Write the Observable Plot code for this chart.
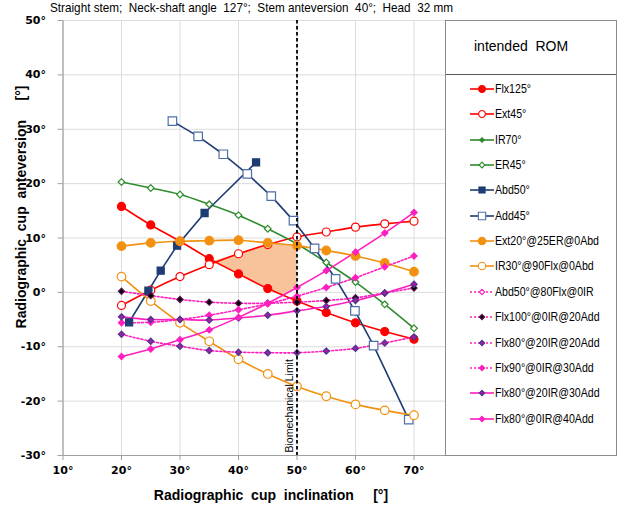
<!DOCTYPE html>
<html><head><meta charset="utf-8">
<script src="https://cdn.jsdelivr.net/npm/d3@7"></script>
<script src="https://cdn.jsdelivr.net/npm/@observablehq/plot@0.6"></script>
<style>
body{margin:0;background:#fff;}
#wrap{position:relative;width:618px;height:507px;overflow:hidden;font-family:"Liberation Sans",Arial,sans-serif;color:#000;}
#wrap > svg{position:absolute;left:0;top:0;}
.title{position:absolute;left:50px;top:0px;font-size:13.5px;white-space:pre;font-family:"Liberation Sans Narrow","Liberation Sans",Arial,sans-serif;line-height:16px;transform-origin:0 50%;}
.xlab{position:absolute;left:0;width:542px;top:486px;text-align:center;font-weight:bold;font-size:14px;white-space:pre;line-height:18px;}
.ylab{position:absolute;left:21px;top:207px;transform:translate(-50%,-50%) rotate(-90deg);font-weight:bold;font-size:14px;white-space:pre;line-height:18px;}
.legend{position:absolute;left:445px;top:20px;width:170px;height:434px;border:1px solid #8c8c8c;background:#fff;}
.lhead{position:absolute;left:0;top:0;width:170px;height:53px;border-bottom:1px solid #555;font-size:14px;white-space:pre;}
.lhead span{position:absolute;left:28px;top:17px;}
.litem{position:absolute;left:24px;height:14px;font-size:13px;white-space:nowrap;font-family:"Liberation Sans Narrow","Liberation Sans",Arial,sans-serif;line-height:14px;display:flex;align-items:center;}
.litem svg{display:block;margin-right:1px;flex:none;}
.litem span{display:inline-block;transform-origin:0 50%;}
</style></head><body><div id="wrap"></div>
<script>
// ---- data ----
const titleText = "Straight stem;  Neck-shaft angle  127°;  Stem anteversion  40°;  Head  32 mm";
const xTicks = [10, 20, 30, 40, 50, 60, 70];
const yTicks = [-30, -20, -10, 0, 10, 20, 30, 40, 50];
const incl = [20, 25, 30, 35, 40, 45, 50, 55, 60, 65, 70];
const flx125 = [15.8, 12.4, 9.4, 6.2, 3.4, 0.7, -1.6, -3.7, -5.6, -7.2, -8.6];
const ext45 = [-2.4, 0.4, 2.9, 5.1, 7.1, 8.8, 10.2, 11.1, 12.0, 12.6, 13.1];
const ir70 = [];
const er45 = [20.3, 19.2, 18.0, 16.2, 14.2, 11.7, 8.9, 5.5, 1.9, -2.2, -6.6];
const abd50Incl = [21.3, 24.6, 26.7, 29.5, 34.2, 43.0];
const abd50 = [-5.5, 0.3, 4.0, 8.6, 14.6, 23.9];
const add45Incl = [28.7, 33.1, 37.4, 41.5, 45.6, 49.4, 53.0, 56.6, 59.9, 63.1, 69.1];
const add45 = [31.5, 28.7, 25.4, 21.8, 17.7, 13.2, 8.1, 2.5, -3.4, -9.8, -23.4];
const ext20 = [8.5, 9.1, 9.4, 9.5, 9.6, 9.1, 8.6, 7.7, 6.7, 5.4, 3.8];
const ir30 = [2.9, -1.6, -5.6, -9.0, -12.3, -15.0, -17.3, -19.1, -20.6, -21.7, -22.6];
const abd50Flx80 = [];
const flx100 = [0.2, -0.6, -1.3, -1.8, -2.0, -2.0, -1.8, -1.5, -1.0, -0.1, 0.8];
const flx80ir20add20 = [-7.7, -9.0, -9.9, -10.7, -11.0, -11.1, -11.1, -10.8, -10.3, -9.3, -8.2];
const flx90add30 = [-5.6, -5.5, -5.0, -4.2, -3.2, -2.1, -0.7, 0.9, 2.7, 4.7, 6.7];
const flx80ir20add30 = [-4.5, -5.0, -5.0, -5.1, -4.7, -4.2, -3.4, -2.6, -1.5, -0.1, 1.5];
const flx80add40 = [-11.8, -10.4, -8.7, -6.9, -4.6, -2.0, 0.9, 4.0, 7.4, 10.9, 14.7];
// intended ROM zone (vertices)
const zoneIncl = [35.4, 40, 45, 46.5, 47.6, 50];
const zoneLow = [5.6, 3.4, 0.7, 0.0, -0.5, 1.0];
const zoneHigh = [5.6, 7.1, 8.8, 9.0, 8.9, 8.6];
const limitIncl = 50;
const limitLabel = "Biomechanical Limit";

// ---- styles ----
const RED = "#ff0000", GREEN = "#2e8b2e", NAVY = "#1f3c74", ORANGE = "#f29111", PINK = "#ff1fbf", PURPLE = "#a01fa0";
const series = [
  {name: "Flx125°", x: incl, y: flx125, stroke: RED, symbol: "circle", fill: RED, mstroke: RED, r: 4},
  {name: "Ext45°", x: incl, y: ext45, stroke: RED, symbol: "circle", fill: "#fff", mstroke: RED, r: 4},
  {name: "IR70°", x: incl, y: ir70, stroke: GREEN, symbol: "diamond2", fill: GREEN, mstroke: GREEN, r: 2.4},
  {name: "ER45°", x: incl, y: er45, stroke: GREEN, symbol: "diamond2", fill: "#fff", mstroke: GREEN, r: 3},
  {name: "Abd50°", x: abd50Incl, y: abd50, stroke: NAVY, symbol: "square", fill: NAVY, mstroke: NAVY, r: 4, linear: true},
  {name: "Add45°", x: add45Incl, y: add45, stroke: NAVY, symbol: "square", fill: "#fff", mstroke: "#4f6fa8", r: 4.8, linear: true},
  {name: "Ext20°@25ER@0Abd", x: incl, y: ext20, stroke: ORANGE, symbol: "circle", fill: ORANGE, mstroke: ORANGE, r: 4.3},
  {name: "IR30°@90Flx@0Abd", x: incl, y: ir30, stroke: ORANGE, symbol: "circle", fill: "#fff", mstroke: ORANGE, r: 4.3},
  {name: "Abd50°@80Flx@0IR", x: incl, y: abd50Flx80, stroke: PINK, dash: "2,2", symbol: "diamond2", fill: "#fff", mstroke: PINK, r: 2.8},
  {name: "Flx100°@0IR@20Add", x: incl, y: flx100, stroke: PINK, dash: "2,2", symbol: "diamond2", fill: "#000", mstroke: "#5a1050", r: 2.8},
  {name: "Flx80°@20IR@20Add", x: incl, y: flx80ir20add20, stroke: PINK, dash: "2,2", symbol: "diamond2", fill: PURPLE, mstroke: "#4b3590", r: 2.8},
  {name: "Flx90°@0IR@30Add", x: incl, y: flx90add30, stroke: PINK, dash: "2,2", symbol: "diamond2", fill: PINK, mstroke: PINK, r: 2.8},
  {name: "Flx80°@20IR@30Add", x: incl, y: flx80ir20add30, stroke: PINK, symbol: "diamond2", fill: PURPLE, mstroke: "#4b3590", r: 2.8},
  {name: "Flx80°@0IR@40Add", x: incl, y: flx80add40, stroke: PINK, symbol: "diamond2", fill: PINK, mstroke: PINK, r: 2.8}
];

const zone = zoneIncl.map((x, i) => ({x, lo: zoneLow[i], hi: zoneHigh[i]}));
const rowsOf = s => s.y.map((v, i) => ({x: s.x[i], y: v}));

const seriesMarks = [];
for (const s of series) {
  seriesMarks.push(Plot.line(rowsOf(s), {x: "x", y: "y", stroke: s.stroke, strokeWidth: 1.6,
    strokeDasharray: s.dash || null, curve: s.linear ? "linear" : "catmull-rom"}));
}
for (const s of series) {
  seriesMarks.push(Plot.dot(rowsOf(s), {x: "x", y: "y", symbol: s.symbol, r: s.r, fill: s.fill, stroke: s.mstroke, strokeWidth: 1.2}));
}

const plot = Plot.plot({
  width: 618, height: 507,
  marginLeft: 62.5, marginRight: 146, marginTop: 20, marginBottom: 52,
  x: {domain: [10, 80]},
  y: {domain: [-30, 50]},
  style: {fontFamily: "'DejaVu Sans', Verdana, sans-serif", fontSize: "11px", fontWeight: "bold", color: "#000", background: "transparent", overflow: "visible"},
  marks: [
    Plot.gridX(xTicks, {stroke: "#dcdcdc", strokeOpacity: 1}),
    Plot.gridY(yTicks, {stroke: "#dcdcdc", strokeOpacity: 1}),
    Plot.areaY(zone, {x: "x", y1: "lo", y2: "hi", fill: "#f8c39a", curve: "linear"}),
    Plot.axisX(xTicks, {tickFormat: d => d + "°", tickSize: 5, tickPadding: 6, label: null, stroke: "#a0a0a0"}),
    Plot.axisY(yTicks, {tickFormat: d => d + "°", tickSize: 5, tickPadding: 12, label: null, stroke: "#a0a0a0"}),
    Plot.ruleX([10], {stroke: "#a0a0a0", strokeWidth: 1.2}),
    Plot.ruleY([-30], {stroke: "#a0a0a0", strokeWidth: 1.2}),
    ...seriesMarks,
    Plot.ruleX([limitIncl], {stroke: "#000", strokeWidth: 1.8, strokeDasharray: "3.5,2.5"}),
    Plot.text([{x: limitIncl, y: -30, t: limitLabel}], {x: "x", y: "y", text: "t", rotate: -90, textAnchor: "start",
      dx: -7, dy: -3, fontSize: 10.5, fontWeight: "normal", fontFamily: "'Liberation Sans', Arial, sans-serif", fill: "#000"})
  ]
});

const wrap = document.getElementById("wrap");
wrap.appendChild(plot);

const t = document.createElement("div"); t.className = "title"; t.textContent = titleText; wrap.appendChild(t);
const xl = document.createElement("div"); xl.className = "xlab"; xl.textContent = "Radiographic  cup  inclination     [°]"; wrap.appendChild(xl);
const yl = document.createElement("div"); yl.className = "ylab"; yl.textContent = "Radiographic  cup  anteversion     [°]"; wrap.appendChild(yl);

// legend
const lg = document.createElement("div"); lg.className = "legend";
const lh = document.createElement("div"); lh.className = "lhead"; lh.innerHTML = "<span>intended  ROM</span>"; lg.appendChild(lh);
const symMap = {circle: d3.symbolCircle, square: d3.symbolSquare, diamond2: d3.symbolDiamond2};
const spans = [];
series.forEach((s, i) => {
  const it = document.createElement("div"); it.className = "litem";
  it.style.top = (68 + i * 25.35 - 7) + "px";
  const sz = Math.PI * s.r * s.r * 0.75;
  const path = d3.symbol(symMap[s.symbol], sz)();
  it.innerHTML = `<svg width="24" height="12"><line x1="0" x2="24" y1="6" y2="6" stroke="${s.stroke}" stroke-width="1.6" ${s.dash ? `stroke-dasharray="${s.dash}"` : ""}/><path transform="translate(12,6)" d="${path}" fill="${s.fill}" stroke="${s.mstroke}" stroke-width="1.1"/></svg><span>${s.name}</span>`;
  lg.appendChild(it);
  spans.push(it.querySelector("span"));
});
wrap.appendChild(lg);

// fit text widths to the reference's narrow type
const tw = t.getBoundingClientRect().width;
t.style.transform = `scaleX(${403 / tw})`;
const refW = spans[6].getBoundingClientRect().width; // "Ext20°@25ER@0Abd" ≈ 104 px wide
const k = 104 / refW;
spans.forEach(sp => sp.style.transform = `scaleX(${k})`);
</script></body></html>
